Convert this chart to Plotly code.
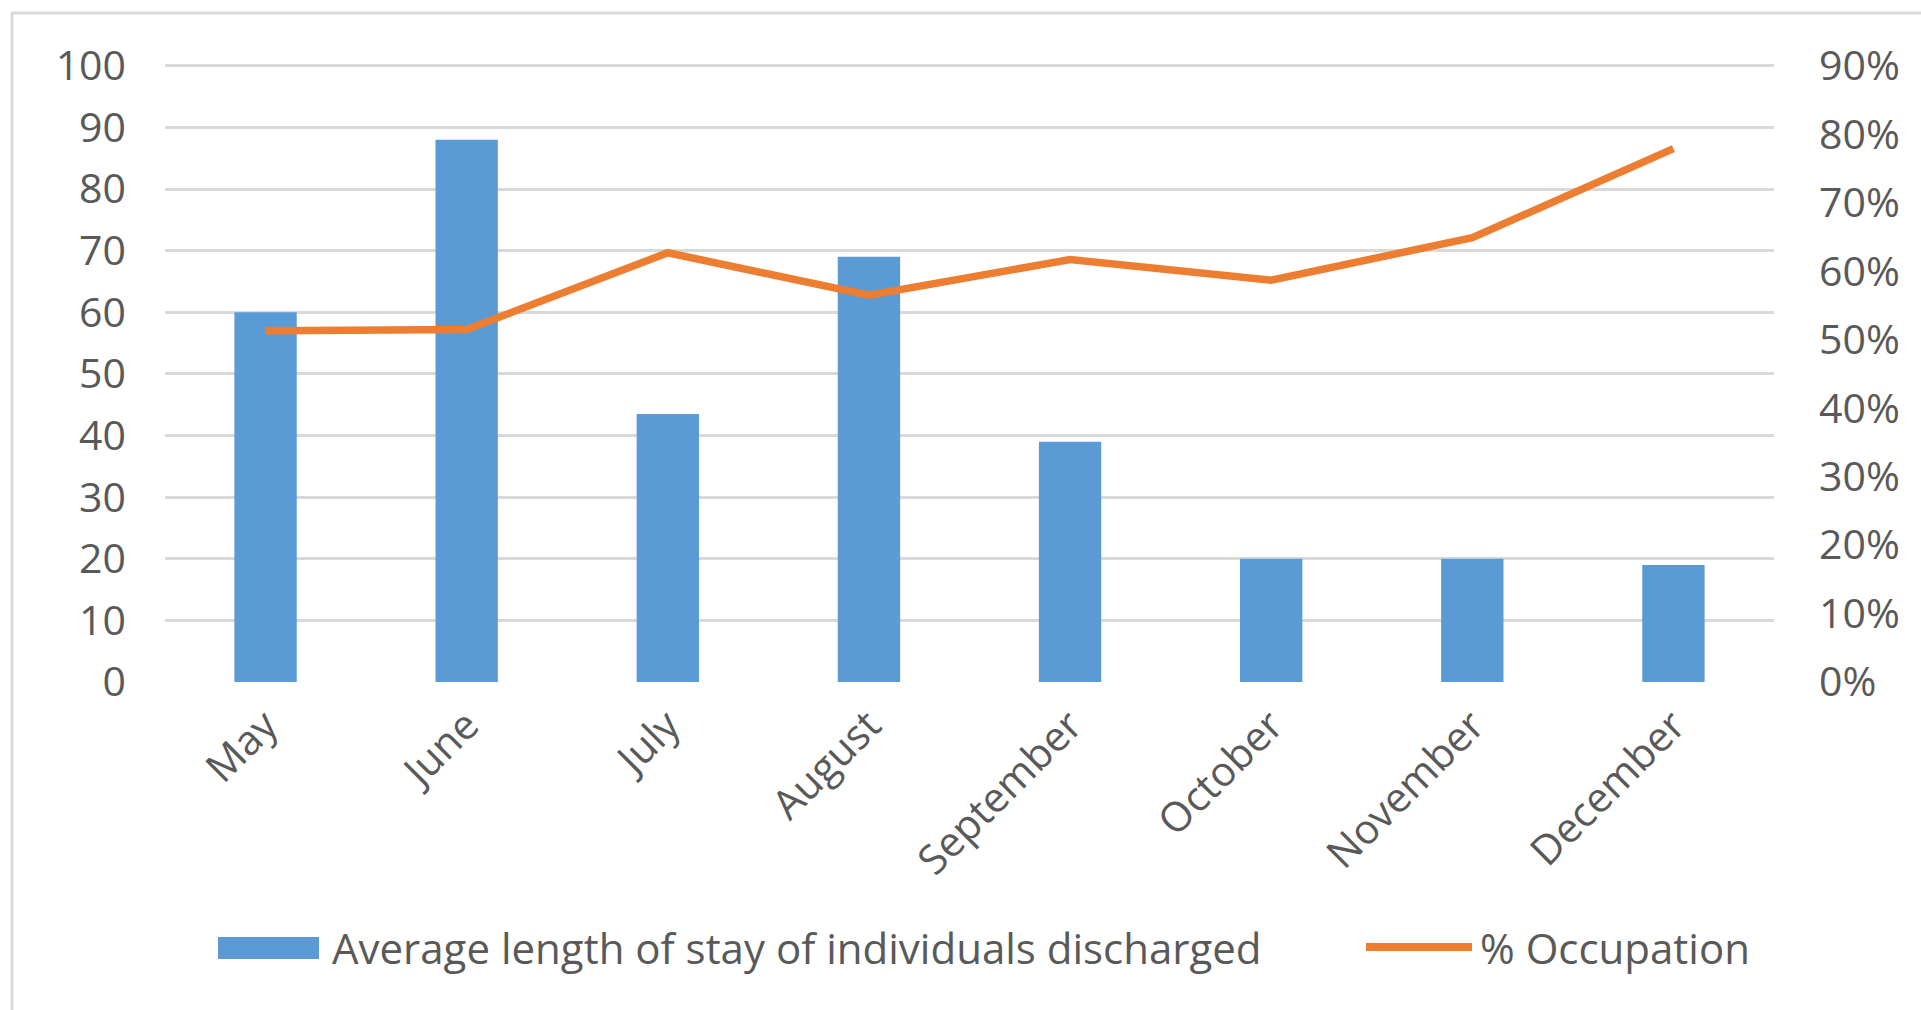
import plotly.graph_objects as go

months = ["May", "June", "July", "August", "September", "October", "November", "December"]
avg_stay = [60, 88, 43.5, 69, 39, 20, 20, 19]
occupation = [0.513, 0.515, 0.627, 0.565, 0.617, 0.587, 0.649, 0.779]
left_ticks = [0, 10, 20, 30, 40, 50, 60, 70, 80, 90, 100]
right_ticks = [0, 0.1, 0.2, 0.3, 0.4, 0.5, 0.6, 0.7, 0.8, 0.9]
bar_name = "Average length of stay of individuals discharged"
line_name = "% Occupation"

FONT = "Open Sans"
TXT = "#595959"
GRID = "#d9d9d9"
BLUE = "#5B9BD5"
ORANGE = "#ED7D31"
FS = 41
LFS = 42

fig = go.Figure()
fig.add_trace(go.Bar(
    x=months, y=avg_stay, name=bar_name, showlegend=False,
    marker=dict(color=BLUE, line=dict(width=0)), width=0.31, yaxis="y",
))
fig.add_trace(go.Scatter(
    x=months, y=occupation, name=line_name, mode="lines", showlegend=False,
    line=dict(color=ORANGE, width=7.5), yaxis="y2",
))

W0, W1, H0, H1 = 165, 1774, 64, 682
pw, ph = W1 - W0, H1 - H0


def px(x):
    return (x - W0) / pw


def py(y):
    return (H1 - y) / ph


LEG_Y = 947

fig.update_layout(
    width=1921, height=1010,
    margin=dict(l=W0, r=1921 - W1, t=H0, b=1010 - H1, autoexpand=False),
    paper_bgcolor="white", plot_bgcolor="white",
    font=dict(family=FONT, size=FS, color=TXT),
    xaxis=dict(
        tickangle=-45, showgrid=False, showline=False, ticks="",
        tickfont=dict(size=FS, color=TXT), ticklabelstandoff=10,
    ),
    yaxis=dict(
        range=[0, 100.3], tickvals=left_ticks, showgrid=True, gridcolor=GRID,
        gridwidth=2.5, zeroline=False, showline=False, ticks="",
        tickfont=dict(size=FS, color=TXT), ticklabelstandoff=38,
    ),
    yaxis2=dict(
        range=[0, 0.9027], tickvals=right_ticks, tickformat=".0%", overlaying="y",
        side="right", showgrid=False, zeroline=False, showline=False, ticks="",
        tickfont=dict(size=FS, color=TXT), ticklabelstandoff=44,
    ),
    showlegend=False,
    shapes=[
        dict(
            type="rect", xref="paper", yref="paper",
            x0=px(12), x1=px(1930), y0=py(1020), y1=py(13),
            line=dict(color=GRID, width=3), fillcolor="rgba(0,0,0,0)", layer="below",
        ),
        dict(
            type="rect", xref="paper", yref="paper",
            x0=px(218), x1=px(319), y0=py(959), y1=py(937),
            line=dict(width=0), fillcolor=BLUE,
        ),
        dict(
            type="line", xref="paper", yref="paper",
            x0=px(1366), x1=px(1472), y0=py(LEG_Y), y1=py(LEG_Y),
            line=dict(color=ORANGE, width=8),
        ),
    ],
    annotations=[
        dict(
            text=bar_name, xref="paper", yref="paper", x=px(330), y=py(LEG_Y),
            xanchor="left", yanchor="middle", showarrow=False,
            font=dict(size=LFS, color=TXT, family=FONT),
        ),
        dict(
            text=line_name, xref="paper", yref="paper", x=px(1478), y=py(LEG_Y),
            xanchor="left", yanchor="middle", showarrow=False,
            font=dict(size=LFS, color=TXT, family=FONT),
        ),
    ],
)

fig.write_html("out.html")
